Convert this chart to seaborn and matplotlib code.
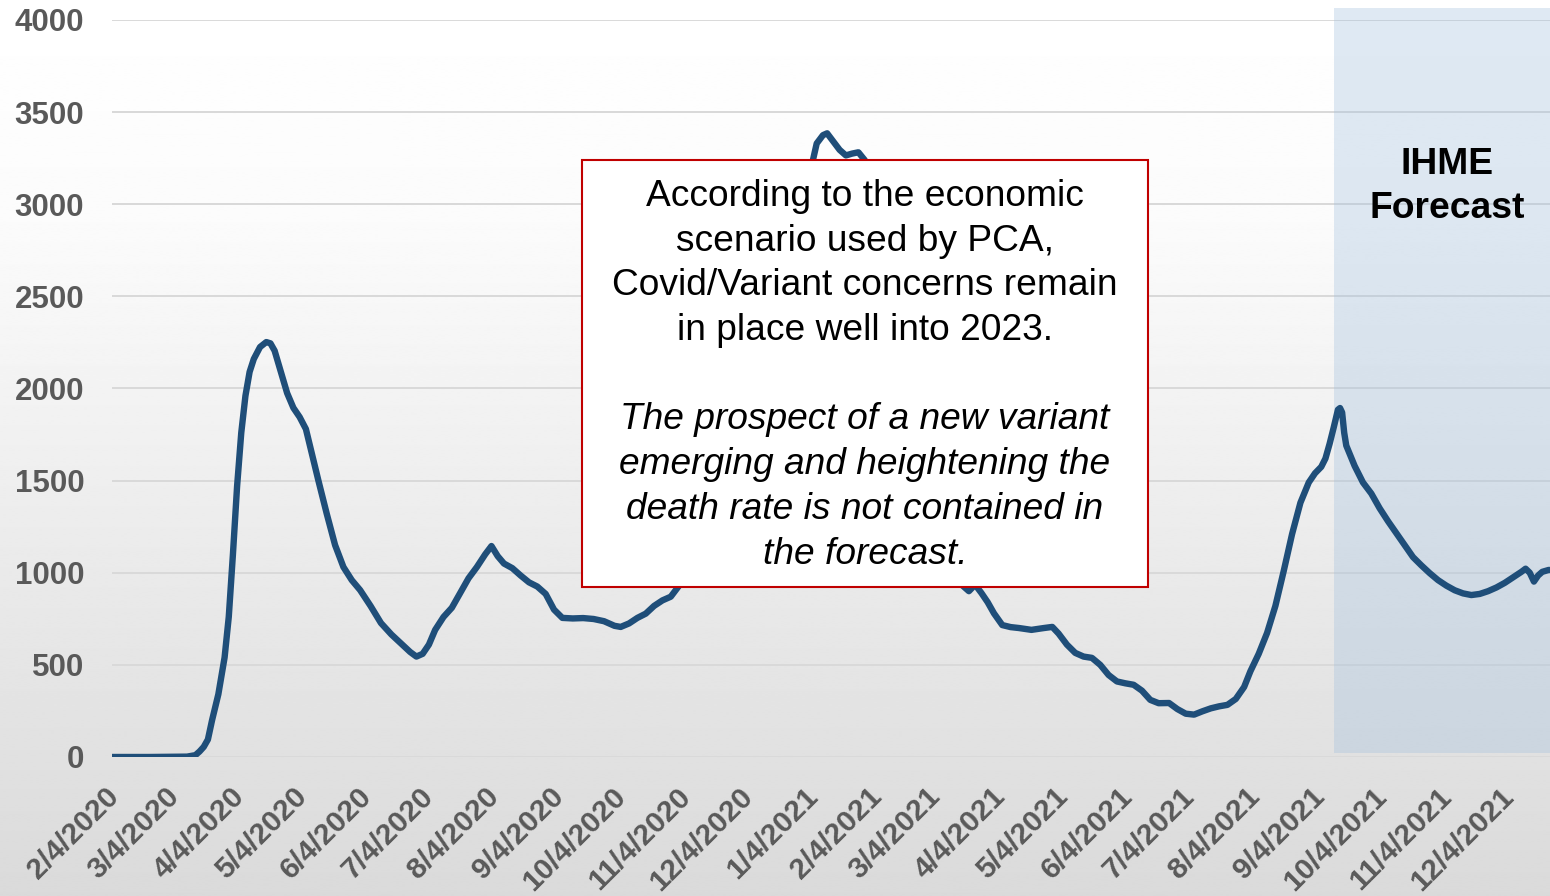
import numpy as np
import pandas as pd
import matplotlib
matplotlib.use("Agg")
import matplotlib.pyplot as plt
import matplotlib.transforms as mtransforms
from matplotlib.patches import Rectangle
import seaborn as sns

# Daily COVID-19 deaths (7-day average), United States, with IHME forecast tail
dates = [
    "2020-02-04", "2020-02-22", "2020-03-11", "2020-03-15", "2020-03-17", "2020-03-19",
    "2020-03-21", "2020-03-23", "2020-03-26", "2020-03-29", "2020-03-31", "2020-04-02",
    "2020-04-04", "2020-04-06", "2020-04-08", "2020-04-10", "2020-04-12", "2020-04-15",
    "2020-04-18", "2020-04-20", "2020-04-22", "2020-04-25", "2020-04-28", "2020-05-01",
    "2020-05-04", "2020-05-07", "2020-05-10", "2020-05-13", "2020-05-17", "2020-05-21",
    "2020-05-25", "2020-05-29", "2020-06-02", "2020-06-07", "2020-06-12", "2020-06-17",
    "2020-06-22", "2020-06-26", "2020-06-29", "2020-07-02", "2020-07-05", "2020-07-08",
    "2020-07-12", "2020-07-16", "2020-07-20", "2020-07-24", "2020-07-28", "2020-08-01",
    "2020-08-04", "2020-08-07", "2020-08-10", "2020-08-14", "2020-08-18", "2020-08-22",
    "2020-08-26", "2020-08-30", "2020-09-03", "2020-09-07", "2020-09-12", "2020-09-17",
    "2020-09-22", "2020-09-27", "2020-10-02", "2020-10-05", "2020-10-09", "2020-10-13",
    "2020-10-17", "2020-10-21", "2020-10-25", "2020-10-29", "2020-11-02", "2020-11-06",
    "2020-11-11", "2020-11-18", "2020-11-25", "2020-12-02", "2020-12-09", "2020-12-16",
    "2020-12-23", "2020-12-30", "2021-01-04", "2021-01-05", "2021-01-07", "2021-01-10",
    "2021-01-12", "2021-01-15", "2021-01-18", "2021-01-21", "2021-01-24", "2021-01-27",
    "2021-01-30", "2021-02-03", "2021-02-10", "2021-02-17", "2021-02-24", "2021-03-03",
    "2021-03-10", "2021-03-15", "2021-03-18", "2021-03-21", "2021-03-24", "2021-03-27",
    "2021-03-30", "2021-04-02", "2021-04-06", "2021-04-10", "2021-04-14", "2021-04-20",
    "2021-04-26", "2021-04-30", "2021-05-03", "2021-05-07", "2021-05-11", "2021-05-15",
    "2021-05-19", "2021-05-23", "2021-05-27", "2021-05-31", "2021-06-04", "2021-06-08",
    "2021-06-12", "2021-06-16", "2021-06-20", "2021-06-25", "2021-06-29", "2021-07-03",
    "2021-07-07", "2021-07-11", "2021-07-15", "2021-07-19", "2021-07-23", "2021-07-27",
    "2021-07-31", "2021-08-03", "2021-08-07", "2021-08-11", "2021-08-15", "2021-08-19",
    "2021-08-23", "2021-08-27", "2021-08-31", "2021-09-03", "2021-09-06", "2021-09-08",
    "2021-09-10", "2021-09-12", "2021-09-14", "2021-09-15", "2021-09-16", "2021-09-17",
    "2021-09-18", "2021-09-22", "2021-09-26", "2021-09-30", "2021-10-04", "2021-10-08",
    "2021-10-12", "2021-10-16", "2021-10-20", "2021-10-24", "2021-10-28", "2021-11-01",
    "2021-11-05", "2021-11-09", "2021-11-13", "2021-11-17", "2021-11-21", "2021-11-25",
    "2021-11-29", "2021-12-03", "2021-12-07", "2021-12-11", "2021-12-13", "2021-12-15",
    "2021-12-17", "2021-12-19", "2021-12-21", "2021-12-24", "2021-12-26",
]
deaths = [
    0, 0, 2, 10, 30, 55,
    95, 200, 340, 540, 760, 1100,
    1470, 1760, 1960, 2090, 2160, 2225,
    2252, 2245, 2205, 2090, 1975, 1895,
    1845, 1780, 1640, 1500, 1320, 1150,
    1031, 960, 906, 820, 727, 665,
    612, 570, 545, 560, 610, 690,
    760, 810, 890, 970, 1031, 1100,
    1145, 1090, 1050, 1025, 985, 948,
    925, 885, 800, 755, 752, 754,
    749, 737, 712, 706, 725, 755,
    778, 820, 850, 870, 930, 1000,
    1100, 1300, 1600, 1800, 2300, 2600,
    2700, 2550, 3050, 3230, 3330, 3375,
    3385, 3340, 3295, 3265, 3275, 3282,
    3240, 3100, 2900, 2500, 2100, 1850,
    1450, 1100, 930, 900, 935, 890,
    840, 780, 716, 705, 700, 690,
    700, 706, 670, 610, 565, 545,
    538, 500, 445, 410, 400, 392,
    360, 310, 292, 293, 260, 235,
    230, 248, 264, 275, 283, 315,
    380, 465, 560, 673, 820, 1010,
    1210, 1380, 1490, 1540, 1575, 1620,
    1700, 1790, 1885, 1894, 1870, 1760,
    1690, 1580, 1490, 1430, 1350, 1280,
    1215, 1150, 1085, 1040, 998, 960,
    930, 905, 888, 879, 885, 900,
    920, 945, 975, 1005, 1022, 1000,
    952, 985, 1005, 1015, 1015,
]

tick_labels = [
    "2/4/2020", "3/4/2020", "4/4/2020", "5/4/2020", "6/4/2020", "7/4/2020",
    "8/4/2020", "9/4/2020", "10/4/2020", "11/4/2020", "12/4/2020", "1/4/2021",
    "2/4/2021", "3/4/2021", "4/4/2021", "5/4/2021", "6/4/2021", "7/4/2021",
    "8/4/2021", "9/4/2021", "10/4/2021", "11/4/2021", "12/4/2021",
]
y_ticks = [0, 500, 1000, 1500, 2000, 2500, 3000, 3500, 4000]

x_start = "2020-02-04"
x_end = "2021-12-24 17:00"
forecast_start = "2021-09-12"

note_plain = [
    "According to the economic",
    "scenario used by PCA,",
    "Covid/Variant concerns remain",
    "in place well into 2023.",
]
note_italic = [
    "The prospect of a new variant",
    "emerging and heightening the",
    "death rate is not contained in",
    "the forecast.",
]
forecast_label = ["IHME", "Forecast"]

df = pd.DataFrame({"date": pd.to_datetime(dates), "deaths": deaths})

sns.set_theme(style="white")
plt.rcParams["font.family"] = ["Liberation Sans", "DejaVu Sans"]

W, H, DPI = 1550, 896, 100
fig = plt.figure(figsize=(W / DPI, H / DPI), dpi=DPI)

# soft vertical gradient behind everything
bg = fig.add_axes([0, 0, 1, 1], zorder=-10)
rows = np.linspace(0, 1, 500)
shade = np.interp(rows, [0.0, 0.25, 1.0], [255, 251, 218]) / 255.0
bg.imshow(np.repeat(shade[:, None], 2, axis=1), cmap="gray", vmin=0, vmax=1,
          aspect="auto", extent=[0, 1, 0, 1], origin="upper", interpolation="bilinear")
bg.axis("off")

ax = fig.add_axes([112 / W, 1 - 757 / H, 1 - 112 / W, (757 - 20) / H])
ax.set_facecolor("none")

sns.lineplot(data=df, x="date", y="deaths", ax=ax, color="#1f4e79",
             linewidth=4.6, zorder=3, solid_joinstyle="round")

ax.set_xlim(pd.Timestamp(x_start), pd.Timestamp(x_end))
ax.set_ylim(0, 4000)

# forecast window
ax.axvspan(pd.Timestamp(forecast_start), pd.Timestamp(x_end), ymin=0.0054, ymax=1.0163,
           facecolor=(164 / 255, 193 / 255, 222 / 255), alpha=0.345, lw=0,
           zorder=1.5, clip_on=False)

ax.set_axisbelow(True)
ax.yaxis.grid(True, color="#d9d9d9", linewidth=1.4)
ax.xaxis.grid(False)
for s in ax.spines.values():
    s.set_visible(False)

ax.set_yticks(y_ticks)
ax.set_yticklabels([str(v) for v in y_ticks], fontsize=22.5, fontweight="bold", color="#595959")
ax.tick_params(axis="y", length=0, pad=20)

tick_dates = pd.to_datetime(tick_labels, format="%m/%d/%Y")
ax.set_xticks(tick_dates)
ax.set_xticklabels(tick_labels, rotation=45, ha="right", va="top", rotation_mode="anchor",
                   fontsize=21.5, fontweight="bold", color="#595959")
ax.tick_params(axis="x", length=0, pad=17)
shift = mtransforms.ScaledTranslation(-7 / DPI, -2 / DPI, fig.dpi_scale_trans)
for lbl in ax.get_xticklabels():
    lbl.set_transform(lbl.get_transform() + shift)
ax.set_xlabel("")
ax.set_ylabel("")

# annotation box
fig.add_artist(Rectangle((582 / W, 1 - 587 / H), (1148 - 582) / W, (587 - 160) / H,
                         transform=fig.transFigure, facecolor="white",
                         edgecolor="#c00000", linewidth=1.5, zorder=5))
for i, line in enumerate(note_plain):
    fig.text(865 / W, 1 - (206 + 44.7 * i) / H, line, ha="center", va="baseline",
             fontsize=26.7, color="black", zorder=6)
for i, line in enumerate(note_italic):
    fig.text(865 / W, 1 - (429 + 45 * i) / H, line, ha="center", va="baseline",
             fontsize=26.7, style="italic", color="black", zorder=6)

for i, line in enumerate(forecast_label):
    fig.text(1447 / W, 1 - (174 + 44 * i) / H, line, ha="center", va="baseline",
             fontsize=26.8, fontweight="bold", color="black", zorder=6)

fig.savefig("out.png", dpi=DPI)
